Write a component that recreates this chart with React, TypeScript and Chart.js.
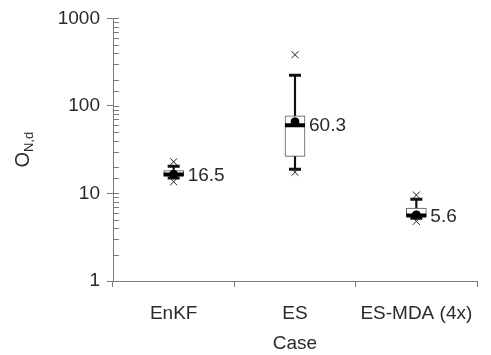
import React, { useEffect, useRef } from 'react';
import { Chart, registerables } from 'chart.js';

Chart.register(...registerables);

const categories = ['EnKF', 'ES', 'ES-MDA (4x)'];
const outlierHigh = [23, 385, 9.6];
const whiskerHigh = [20.4, 224, 8.6];
const q3 = [18.2, 77, 6.8];
const medians = [16.5, 60.3, 5.6];
const means = [16.6, 66, 5.7];
const q1 = [15.9, 26.5, 5.45];
const whiskerLow = [15.0, 18.9, 5.2];
const outlierLow = [13.6, 17.5, 4.8];
const medianLabels = ['16.5', '60.3', '5.6'];
const yTickLabels = [1, 10, 100, 1000];
const yTitleMain = 'O';
const yTitleSub = 'N,d';
const xTitle = 'Case';

const FAMILY = "'Liberation Sans', Arial, Helvetica, sans-serif";
const AXIS = '#7a7a7a';
const TEXT = '#2a2a2a';

const isMajor = (v: number) => yTickLabels.some((t) => Math.abs(t - v) < 1e-9);

const overlayPlugin = {
  id: 'overlay',
  afterDraw(chart: any) {
    const { ctx, chartArea, scales } = chart;
    const x = scales.x;
    const y = scales.y;
    ctx.save();
    ctx.strokeStyle = AXIS;
    ctx.lineWidth = 1;
    y.ticks.forEach((t: any) => {
      const py = Math.round(y.getPixelForValue(t.value)) + 0.5;
      ctx.beginPath();
      ctx.moveTo(chartArea.left, py);
      ctx.lineTo(chartArea.left + 6, py);
      ctx.stroke();
    });
    ctx.fillStyle = TEXT;
    ctx.font = `19px ${FAMILY}`;
    ctx.textBaseline = 'middle';
    ctx.textAlign = 'left';
    categories.forEach((_, i) => {
      const px = x.getPixelForValue(i) + 14;
      const py = y.getPixelForValue(medians[i]);
      ctx.fillText(medianLabels[i], px, py + 1);
    });
    const cy = (chartArea.top + chartArea.bottom) / 2;
    ctx.translate(29, cy);
    ctx.rotate(-Math.PI / 2);
    ctx.textBaseline = 'alphabetic';
    ctx.font = `20px ${FAMILY}`;
    const wMain = ctx.measureText(yTitleMain).width;
    ctx.font = `13px ${FAMILY}`;
    const wSub = ctx.measureText(yTitleSub).width;
    const start = -(wMain + wSub) / 2;
    ctx.font = `20px ${FAMILY}`;
    ctx.fillText(yTitleMain, start, 0);
    ctx.font = `13px ${FAMILY}`;
    ctx.fillText(yTitleSub, start + wMain, 4);
    ctx.restore();
  },
};

export default function App() {
  const ref = useRef<HTMLCanvasElement | null>(null);
  useEffect(() => {
    if (!ref.current) return;
    const pointDs = (label: string, data: number[], style: any, radius: number, bw: number, color: string, order: number) => ({
      type: 'line' as const,
      label,
      data,
      showLine: false,
      pointStyle: style,
      pointRadius: radius,
      pointHoverRadius: radius,
      pointBorderWidth: bw,
      pointBorderColor: color,
      pointBackgroundColor: color,
      borderColor: color,
      backgroundColor: color,
      order,
    });
    const chart = new Chart(ref.current, {
      type: 'bar',
      data: {
        labels: categories,
        datasets: [
          {
            type: 'bar',
            label: 'box',
            data: categories.map((_, i) => [q1[i], q3[i]]) as any,
            backgroundColor: '#fff',
            borderColor: '#555',
            borderWidth: 1,
            borderSkipped: false,
            barThickness: 20,
            grouped: false,
            order: 6,
          } as any,
          {
            type: 'bar',
            label: 'whiskerUp',
            data: categories.map((_, i) => [q3[i], whiskerHigh[i]]) as any,
            backgroundColor: '#111',
            barThickness: 1.5,
            grouped: false,
            order: 7,
          } as any,
          {
            type: 'bar',
            label: 'whiskerDown',
            data: categories.map((_, i) => [whiskerLow[i], q1[i]]) as any,
            backgroundColor: '#111',
            barThickness: 1.5,
            grouped: false,
            order: 7,
          } as any,
          pointDs('capHigh', whiskerHigh, 'line', 6, 3, '#111', 5),
          pointDs('capLow', whiskerLow, 'line', 6, 3, '#111', 5),
          pointDs('mean', means, 'circle', 4, 1, '#000', 4),
          pointDs('median', medians, 'line', 10, 4, '#000', 3),
          pointDs('outHigh', outlierHigh, 'crossRot', 5, 1, '#222', 2),
          pointDs('outLow', outlierLow, 'crossRot', 5, 1, '#222', 2),
        ] as any,
      },
      options: {
        animation: false,
        responsive: true,
        maintainAspectRatio: false,
        layout: { padding: { top: 15, right: 8, left: 0, bottom: 0 } },
        plugins: { legend: { display: false }, tooltip: { enabled: false } },
        scales: {
          x: {
            offset: true,
            grid: { display: true, drawOnChartArea: false, drawTicks: true, tickLength: 6, color: AXIS, offset: true },
            border: { color: AXIS, width: 1 },
            ticks: { color: TEXT, font: { size: 19, family: FAMILY }, padding: 15 },
            title: { display: true, text: xTitle, color: TEXT, font: { size: 19, family: FAMILY }, padding: { top: 0, bottom: 0 } },
            afterFit(s: any) { s.height = 74; },
          },
          y: {
            type: 'logarithmic',
            min: 1,
            max: 1000,
            grid: {
              display: true,
              drawOnChartArea: false,
              drawTicks: true,
              tickLength: 6,
              color: (c: any) => (c.tick && isMajor(c.tick.value) ? AXIS : 'rgba(0,0,0,0)'),
            },
            border: { color: AXIS, width: 1 },
            ticks: {
              color: TEXT,
              font: { size: 19, family: FAMILY },
              padding: 7,
              autoSkip: false,
              callback: (v: any) => (isMajor(Number(v)) ? String(v) : ''),
            },
            afterFit(s: any) { s.width = 113; },
          },
        } as any,
      },
      plugins: [overlayPlugin],
    });
    return () => chart.destroy();
  }, []);
  return (
    <div style={{ position: 'fixed', left: 0, top: 0, width: 491, height: 355, background: '#fff' }}>
      <canvas ref={ref} />
    </div>
  );
}
